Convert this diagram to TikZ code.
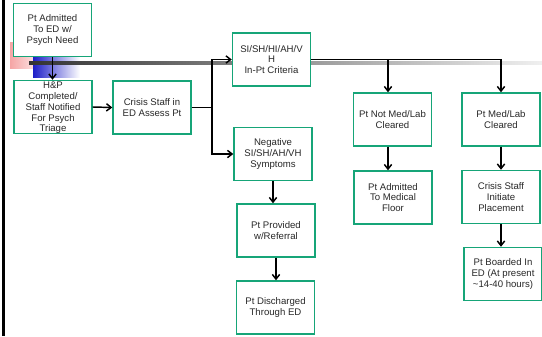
\documentclass[tikz,border=0pt]{standalone}
\usepackage{fontspec}
\setmainfont{Liberation Sans}
\usetikzlibrary{arrows.meta}
\definecolor{boxgreen}{RGB}{22,165,120}
\definecolor{txt}{RGB}{40,40,40}
\definecolor{pinkdeco}{RGB}{245,165,165}
\definecolor{bluedeco}{RGB}{30,30,200}
\tikzset{
  flowbox/.style={draw=boxgreen, line width=1.1pt, fill=white, minimum width=58.5pt, minimum height=39.75pt, inner sep=0pt, align=center, font=\fontsize{7.2}{8.1}\selectfont, text=txt},
  arr/.style={draw=black, line width=1.1pt, -{Straight Barb[length=3.5pt,width=5.5pt,line width=1.1pt]}},
  plain/.style={draw=black, line width=1.1pt}
}
\begin{document}
\begin{tikzpicture}[x=0.75pt,y=-0.75pt]
\useasboundingbox (0,0) rectangle (542,336);
\fill[white] (0,0) rectangle (542,336);
% slide decorations
\shade[left color=pinkdeco, right color=white] (10,42) rectangle (47,68);
\shade[left color=bluedeco, right color=white] (33,57) rectangle (80,77);
\shade[left color=black!80, right color=black!6] (29,61.5) rectangle (542,64.5);
\fill[black] (2,0) rectangle (5,336);
% boxes
\node[flowbox] (b1) at (52.5,30) {Pt Admitted\\To ED w/\\Psych Need};
\node[flowbox] (b2) at (53,107) {};
\node[align=center, font=\fontsize{7.2}{8.1}\selectfont, text=txt, inner sep=0pt] (b2t) at (53,108) {H\&P\\Completed/\\Staff Notified\\For Psych\\Triage};
\node[flowbox] (b3) at (152,107.5) {Crisis Staff in\\ED Assess Pt};
\node[flowbox] (b4) at (271.5,59.5) {SI/SH/HI/AH/V\\H\\In-Pt Criteria};
\node[flowbox] (b5) at (273,154) {Negative\\SI/SH/AH/VH\\Symptoms};
\node[flowbox] (b6) at (392.5,119.5) {Pt Not Med/Lab\\Cleared};
\node[flowbox] (b7) at (501,119.5) {Pt Med/Lab\\Cleared};
\node[flowbox] (b8) at (393,197.5) {Pt Admitted\\To Medical\\Floor};
\node[flowbox] (b9) at (501,197) {Crisis Staff\\Initiate\\Placement};
\node[flowbox] (b10) at (503,274) {Pt Boarded In\\ED (At present\\\textasciitilde14-40 hours)};
\node[flowbox] (b11) at (276,230.5) {Pt Provided\\w/Referral};
\node[flowbox] (b12) at (275.5,307.5) {Pt Discharged\\Through ED};
% connectors
\draw[arr] (b1.south) -- (b1.south |- b2.north);
\draw[arr] (b2.east) -- (b3.west);
\coordinate (j) at (212,107.5);
\draw[plain] (b3.east) -- (j);
\draw[arr] (j) |- (b4.west);
\draw[arr] (j) |- (b5.west);
\coordinate (c6) at (388,59.5);
\draw[arr] (b4.east) -| (b7.north);
\draw[arr] (c6) -- (c6 |- b6.north);
\draw[arr] (c6 |- b6.south) -- (c6 |- b8.north);
\draw[arr] (b7.south) -- (b9.north);
\draw[arr] (b9.south) -- (b9.south |- b10.north);
\draw[arr] (b5.south) -- (b5.south |- b11.north);
\draw[arr] (b11.south) -- (b11.south |- b12.north);
\end{tikzpicture}
\end{document}
